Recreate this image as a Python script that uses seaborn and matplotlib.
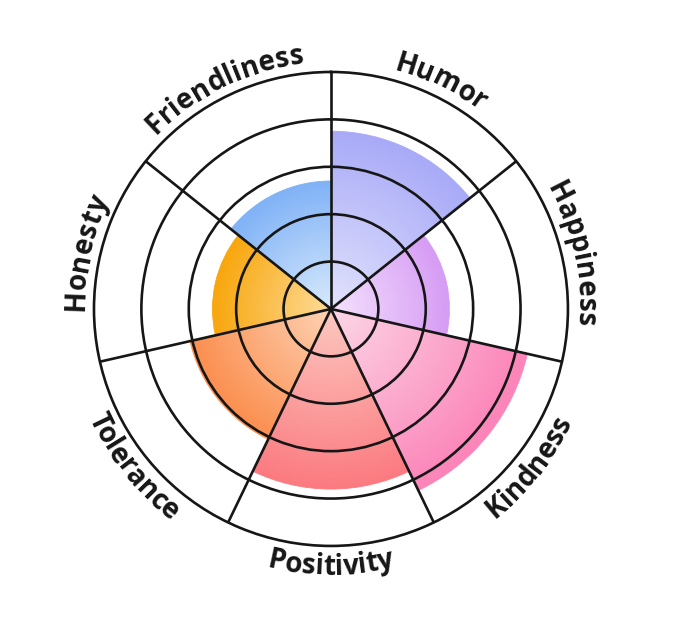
import matplotlib
matplotlib.use("Agg")
import matplotlib.pyplot as plt
import numpy as np
import seaborn as sns
from matplotlib.font_manager import FontProperties

categories = ['Humor', 'Happiness', 'Kindness', 'Positivity', 'Tolerance', 'Honesty', 'Friendliness']
scores = [3.75, 2.5, 4.25, 3.8, 3.05, 2.5, 2.7]
inner_colors = ['#e2e2fc', '#f4e2fd', '#fcd6e6', '#fcc8c0', '#fdd2b4', '#fddc98', '#d8eafc']
outer_colors = ['#a8aaf7', '#d69cf4', '#fb84b8', '#fb7a80', '#fb8e4e', '#f8a60c', '#80b2f6']
ring_levels = [1, 2, 3, 4, 5]

sns.set_theme(style='white')
plt.rcParams['font.family'] = ['Open Sans', 'DejaVu Sans']

fig = plt.figure(figsize=(6.8, 6.43), dpi=100)
ax = fig.add_axes([0.1382, 0.1509, 0.697, 0.7372], projection='polar')
ax.set_theta_zero_location('N')
ax.set_theta_direction(-1)

n = len(categories)
width = 2 * np.pi / n
starts = np.arange(n) * width

# radial gradient: stack thin bars from light centre to saturated rim
steps = 80
for i, val in enumerate(scores):
    shades = sns.blend_palette([inner_colors[i], outer_colors[i]], steps)
    edges = np.linspace(0, val, steps + 1)
    ax.bar(np.full(steps, starts[i]), np.diff(edges), width=width, bottom=edges[:-1],
           align='edge', color=shades, edgecolor=shades, linewidth=0.6, zorder=1)

line_col = '#161616'
ax.set_ylim(0, ring_levels[-1])
ax.set_yticks(ring_levels[:-1])
ax.set_yticklabels([])
ax.set_xticks(starts)
ax.set_xticklabels([])
ax.grid(True, color=line_col, linewidth=1.9)
ax.spines['polar'].set_color(line_col)
ax.spines['polar'].set_linewidth(1.9)
ax.set_axisbelow(False)

# curved labels around the rim
fig.canvas.draw()
renderer = fig.canvas.get_renderer()
fp = FontProperties(family='Open Sans', weight='bold', size=20)
ppu = (ax.bbox.width / 2) / ring_levels[-1]


def curved_label(text, mid_deg):
    flip = 90 < mid_deg < 270
    R = 266 if flip else 247
    cum = [renderer.get_text_width_height_descent(text[:k], fp, ismath=False)[0] if k else 0
           for k in range(len(text) + 1)]
    total = cum[-1]
    for k, ch in enumerate(text):
        s = (cum[k] + cum[k + 1]) / 2 - total / 2
        d = np.degrees(s / R)
        if flip:
            phi = mid_deg - d
            rot = 180 - phi
        else:
            phi = mid_deg + d
            rot = -phi
        ax.text(np.radians(phi), R / ppu, ch, rotation=rot, rotation_mode='anchor',
                ha='center', va='baseline', fontproperties=fp, color='#161616')


for i, cat in enumerate(categories):
    curved_label(cat, (i + 0.5) * 360 / n)

fig.savefig('out.png', dpi=100)
